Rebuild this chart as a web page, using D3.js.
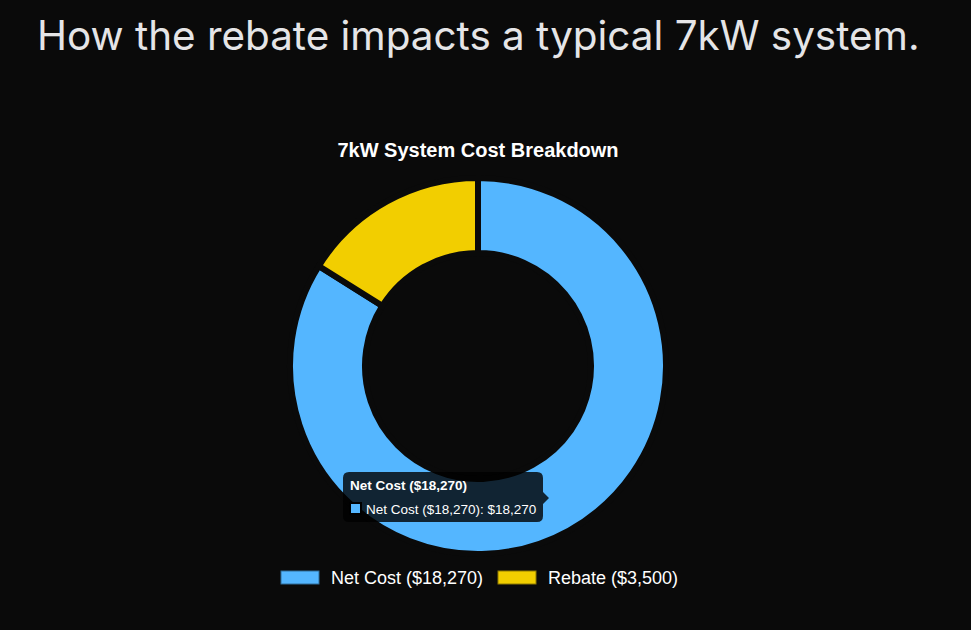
<!DOCTYPE html>
<html>
<head>
<meta charset="utf-8">
<script src="https://cdn.jsdelivr.net/npm/d3@7/dist/d3.min.js"></script>
<style>
  html, body { margin: 0; padding: 0; background: #0a0a0a; }
  svg { display: block; }
</style>
</head>
<body>
<svg id="chart" width="971" height="630"></svg>
<script>
const pageTitle = "How the rebate impacts a typical 7kW system.";
const chartTitle = "7kW System Cost Breakdown";
const categories = ["Net Cost ($18,270)", "Rebate ($3,500)"];
const values = [18270, 3500];
const colors = ["#54b6ff", "#f2ce00"];
const tooltipIndex = 0;

const W = 971, H = 630;
const bg = "#0a0a0a";
const svg = d3.select("#chart");
svg.append("rect").attr("width", W).attr("height", H).attr("fill", bg);

// Page title
svg.append("text")
  .attr("x", 37).attr("y", 50)
  .attr("font-family", "Inter, sans-serif")
  .attr("font-size", 40.4)
  .attr("fill", "#e5e5e7")
  .text(pageTitle);

// Chart title
svg.append("text")
  .attr("x", 478).attr("y", 157)
  .attr("text-anchor", "middle")
  .attr("font-family", "'Liberation Sans', Arial, sans-serif")
  .attr("font-weight", "bold")
  .attr("font-size", 20)
  .attr("fill", "#ffffff")
  .text(chartTitle);

// Doughnut
const cx = 478, cy = 366;
const borderW = 6;
const outerR = 185 + borderW / 2, innerR = 116 - borderW / 2;
const pie = d3.pie().sort(null).value(d => d)(values);
const arc = d3.arc().innerRadius(innerR).outerRadius(outerR);
const g = svg.append("g").attr("transform", `translate(${cx},${cy})`);
g.selectAll("path").data(pie).join("path")
  .attr("d", arc)
  .attr("fill", (d, i) => colors[i])
  .attr("stroke", bg)
  .attr("stroke-width", borderW)
  .attr("stroke-linejoin", "miter");

// Legend
const legendFont = "'Liberation Sans', Arial, sans-serif";
const legendY = 571, boxW = 38, boxH = 13;
const legendX = [281, 498];
const lg = svg.append("g");
categories.forEach((c, i) => {
  lg.append("rect")
    .attr("x", legendX[i]).attr("y", legendY)
    .attr("width", boxW).attr("height", boxH)
    .attr("fill", colors[i])
    .attr("stroke", i === 0 ? "#2f6c99" : "#8f7a00")
    .attr("stroke-width", 1);
  lg.append("text")
    .attr("x", legendX[i] + boxW + 12).attr("y", legendY + 12.5)
    .attr("font-family", legendFont)
    .attr("font-size", 18)
    .attr("fill", "#ffffff")
    .text(c);
});

// Tooltip
const tx = 343, ty = 472, tw = 200, th = 50;
const tip = svg.append("g");
tip.append("path")
  .attr("d", `M${tx + 6},${ty} H${tx + tw - 6} Q${tx + tw},${ty} ${tx + tw},${ty + 6}
    V${ty + 20} L${tx + tw + 6},${ty + 26} L${tx + tw},${ty + 32}
    V${ty + th - 6} Q${tx + tw},${ty + th} ${tx + tw - 6},${ty + th}
    H${tx + 6} Q${tx},${ty + th} ${tx},${ty + th - 6}
    V${ty + 6} Q${tx},${ty} ${tx + 6},${ty} Z`)
  .attr("fill", "rgba(0,0,0,0.8)");
tip.append("text")
  .attr("x", tx + 7).attr("y", ty + 18)
  .attr("font-family", legendFont)
  .attr("font-weight", "bold")
  .attr("font-size", 13.5)
  .attr("fill", "#ffffff")
  .text(categories[tooltipIndex]);
tip.append("rect")
  .attr("x", tx + 7).attr("y", ty + 31)
  .attr("width", 11).attr("height", 11)
  .attr("fill", colors[tooltipIndex])
  .attr("stroke", "#000")
  .attr("stroke-width", 2);
tip.append("text")
  .attr("x", tx + 23).attr("y", ty + 41.5)
  .attr("font-family", legendFont)
  .attr("font-size", 13.5)
  .attr("fill", "#ffffff")
  .text(`${categories[tooltipIndex]}: $${d3.format(",")(values[tooltipIndex])}`);
</script>
</body>
</html>
